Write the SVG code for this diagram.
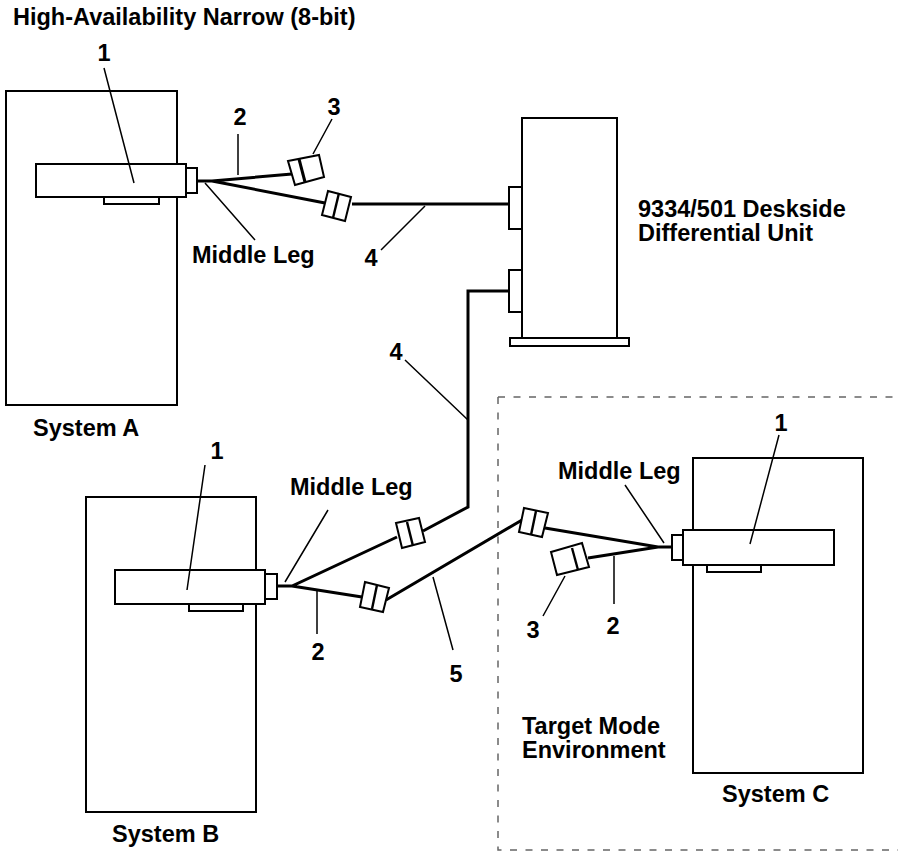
<svg xmlns="http://www.w3.org/2000/svg" width="907" height="852" viewBox="0 0 907 852">
<style>
text{font-family:"Liberation Sans",Arial,sans-serif;font-weight:700;font-size:23.5px;fill:#000}
.n{text-anchor:middle}
.b{fill:#fff;stroke:#000;stroke-width:2}
.c{fill:none;stroke:#000;stroke-width:3}
.s{fill:none;stroke:#000;stroke-width:2.4}
.l{fill:none;stroke:#000;stroke-width:1.5}
</style>
<rect width="907" height="852" fill="#fff"/>
<text x="13" y="25">High-Availability Narrow (8-bit)</text>
<path d="M498 397H898M498 397V850H898" fill="none" stroke="#666" stroke-width="1.5" stroke-dasharray="7 8.5"/>
<g id="system-a">
<rect class="b" x="6" y="91" width="171" height="314"/>
<rect class="b" x="104" y="197" width="55" height="7"/>
<rect class="b" x="36" y="164" width="150" height="33"/>
<rect class="b" x="186" y="168" width="11" height="25"/>
<text x="33" y="436">System A</text>
</g>
<g id="system-b">
<rect class="b" x="86" y="497" width="170" height="315"/>
<rect class="b" x="189" y="604" width="54" height="7"/>
<rect class="b" x="115" y="570" width="150" height="34"/>
<rect class="b" x="265" y="574" width="12" height="25"/>
<text x="112" y="842">System B</text>
</g>
<g id="system-c">
<rect class="b" x="693" y="458" width="170" height="315"/>
<rect class="b" x="707" y="565" width="54" height="7"/>
<rect class="b" x="683" y="530" width="151" height="35"/>
<rect class="b" x="672" y="535" width="11" height="25"/>
<text x="722" y="802">System C</text>
</g>
<g id="unit">
<rect class="b" x="522" y="118" width="95" height="220"/>
<rect class="b" x="510" y="338" width="119" height="8"/>
<rect class="b" x="509" y="187" width="13" height="42"/>
<rect class="b" x="509" y="270" width="13" height="42"/>
<text x="638" y="217">9334/501 Deskside<tspan x="638" y="241">Differential Unit</tspan></text>
</g>
<g id="connectors">
<path class="c" d="M197 181H212L292 174M212 181L325 203M352 204H509"/>
<path class="c" d="M509 291H468V507L423 531M397 537L292 586H277M292 586L362 597M386 600L522 520M545 528L658 547H672M658 547L588 558"/>
<path class="b" d="M288 161L319 155L324 177L295 185Z"/><path class="c" d="M299 159L305 182"/>
<path class="b" d="M328 191L351 197L345 221L322 215Z"/><path class="s" d="M339 193L333 218"/>
<path class="b" d="M396 523L419 518L425 542L402 548Z"/><path class="s" d="M407 522L413 546"/>
<path class="b" d="M365 582L389 588L383 612L360 607Z"/><path class="s" d="M377 585L372 609"/>
<path class="b" d="M524 508L548 513L542 537L519 532Z"/><path class="s" d="M536 511L531 535"/>
<path class="b" d="M551 552L582 543L589 567L557 575Z"/><path class="s" d="M572 548L578 570"/>
<path class="l" d="M104 68L134 183M238 134V175M332 119L313 154M205 183L255 240M381 250L425 206M405 360L468 420M205 465L187 590M328 510L285 582M317 590V634M433 577L453 650M625 485L664 543M779 435L750 544M614 556V604M565 576L543 616"/>
</g>
<g id="labels">
<text class="n" x="104" y="61">1</text>
<text class="n" x="240" y="125">2</text>
<text class="n" x="334" y="115">3</text>
<text x="192" y="263">Middle Leg</text>
<text class="n" x="371" y="266">4</text>
<text class="n" x="396" y="360">4</text>
<text class="n" x="217" y="459">1</text>
<text x="290" y="495">Middle Leg</text>
<text class="n" x="318" y="660">2</text>
<text class="n" x="456" y="682">5</text>
<text x="558" y="479">Middle Leg</text>
<text class="n" x="781" y="431">1</text>
<text class="n" x="533" y="638">3</text>
<text class="n" x="613" y="634">2</text>
<text x="522" y="734">Target Mode<tspan x="522" y="758">Environment</tspan></text>
</g>
</svg>
